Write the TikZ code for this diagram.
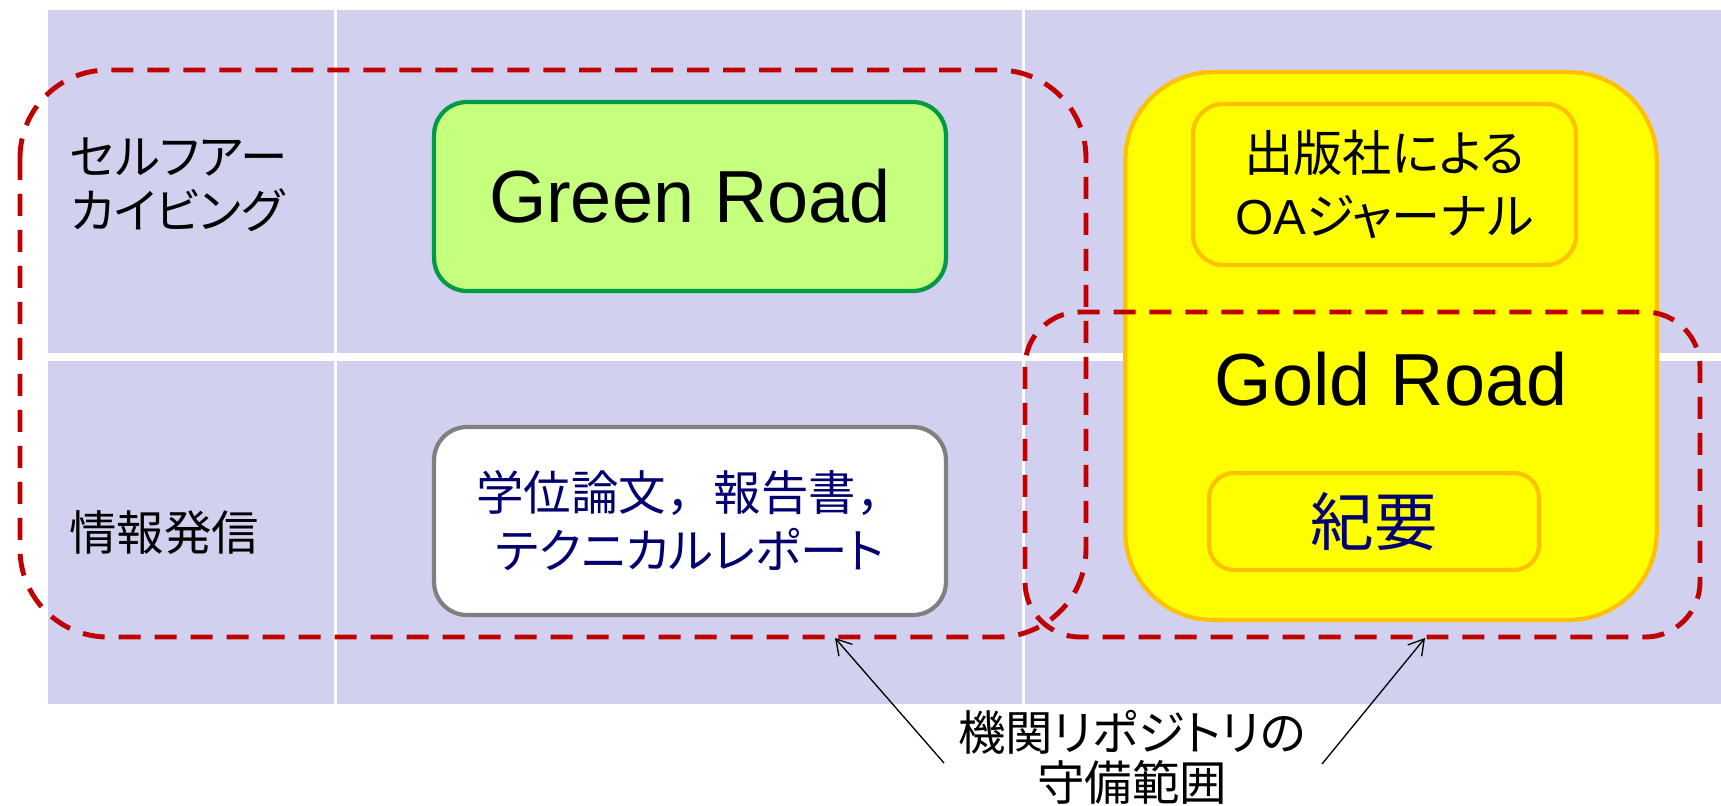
\documentclass[tikz,border=0pt]{standalone}
\usepackage{fontspec}
\setmainfont{Noto Sans CJK JP}[RawFeature=+palt]
\newfontfamily\fullwidth{Noto Sans CJK JP}
\newfontfamily\latinfont{Liberation Sans}
\usepackage{xcolor}
\usepackage{tikz}
\usetikzlibrary{arrows.meta}
\definecolor{cellbg}{HTML}{D1D1EF}
\definecolor{scopered}{HTML}{C00000}
\definecolor{greenfill}{HTML}{C5FF7D}
\definecolor{greenline}{HTML}{009A46}
\definecolor{goldline}{HTML}{FFC000}
\definecolor{goldfill}{HTML}{FFFF00}
\definecolor{navytext}{HTML}{000070}

\begin{document}
\begin{tikzpicture}[x=0.02cm,y=-0.02cm,
  roadbox/.style={draw,line width=2.4pt,inner sep=0pt},
  scopeline/.style={draw=scopered,line width=2.8pt,dash pattern=on 0.44cm off 0.28cm},
  pointer/.style={-{Straight Barb[length=0.3cm,width=0.36cm]},line width=0.75pt}]
\useasboundingbox(0,0)rectangle(1721,805);

% background table
\foreach\xa/\xb in{48/334,337/1022,1025/1721}
  \foreach\ya/\yb in{10/353,361/704}
    \fill[cellbg](\xa,\ya)rectangle(\xb,\yb);

\node[anchor=west,align=left,font=\fontsize{27}{31}\selectfont](selfarch)at(64,185){セルフアー\\カイビング};
\node[anchor=west,font=\fontsize{27}{31}\selectfont](infosend)at(63,533){情報発信};

\node[roadbox,draw=greenline,fill=greenfill,rounded corners=0.66cm,minimum width=10.24cm,minimum height=3.78cm,font=\latinfont\fontsize{42}{50}\selectfont](green)at(690,196.5){Green Road};
\node[roadbox,draw=gray,fill=white,rounded corners=0.66cm,minimum width=10.24cm,minimum height=3.76cm,align=center,text=navytext,font=\fontsize{27}{33}\selectfont](thesis)at(690,521){学位論文{\fullwidth ，}報告書{\fullwidth ，}\\テクニカルレポート};

\node[roadbox,draw=goldline,fill=goldfill,rounded corners=1.76cm,minimum width=10.63cm,minimum height=10.96cm](gold)at(1391,346){};
\node[roadbox,draw=goldline,rounded corners=0.6cm,minimum width=7.66cm,minimum height=3.22cm,align=center,font=\fontsize{28}{36}\selectfont](pubjournal)at(1384.5,184.5){出版社による\\{\latinfont OA}ジャーナル};
\node[font=\latinfont\fontsize{42}{50}\selectfont](goldtxt)at(1391,379){Gold Road};
\node[roadbox,draw=goldline,rounded corners=0.5cm,minimum width=6.6cm,minimum height=1.94cm,text=navytext,font=\fontsize{36}{40}\selectfont](kiyou)at(1374,521.5){紀要};

% repository scope
\draw[scopeline,rounded corners=1.76cm](20,70)rectangle(1086,637);
\draw[scopeline,rounded corners=1.1cm](1025,312)rectangle(1700,637);

\node[align=center,font=\fontsize{27}{28.5}\selectfont](reach)at(1132,757){機関リポジトリの\\守備範囲};
\coordinate(greenfoot)at(944,763);
\coordinate(greentip)at(835,638);
\coordinate(goldfoot)at(1322,764);
\coordinate(goldtip)at(1425,638);
\draw[pointer](greenfoot)--(greentip);
\draw[pointer](goldfoot)--(goldtip);
\end{tikzpicture}
\end{document}
